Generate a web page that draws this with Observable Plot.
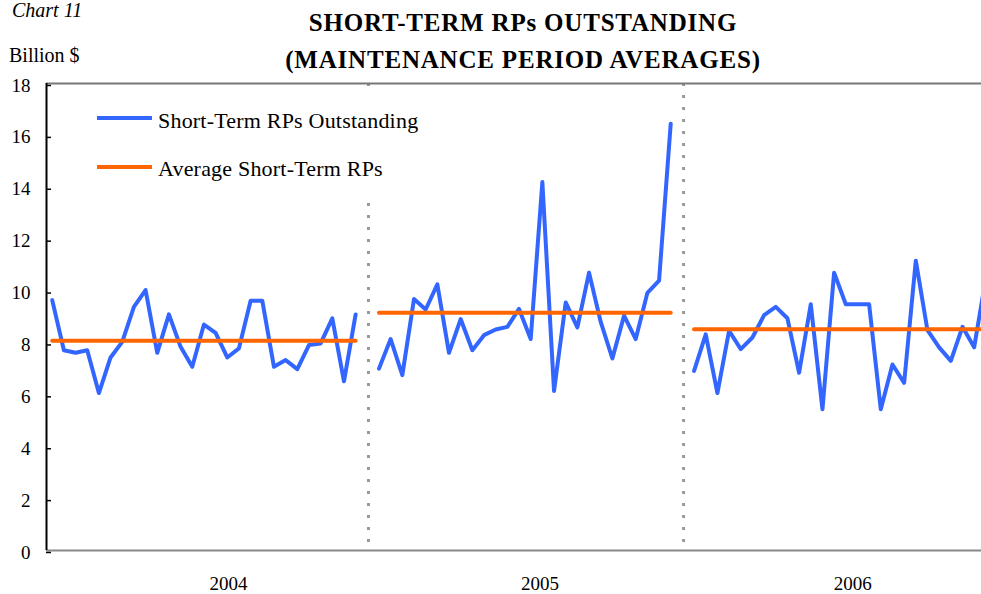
<!DOCTYPE html>
<html>
<head>
<meta charset="utf-8">
<script src="https://cdn.jsdelivr.net/npm/d3@7"></script>
<script src="https://cdn.jsdelivr.net/npm/@observablehq/plot@0.6"></script>
<style>
  html, body { margin: 0; padding: 0; background: #fff; overflow: hidden; }
  #wrap { position: relative; width: 981px; height: 594px; font-family: "Liberation Serif", "Times New Roman", serif; color: #000; }
  .abs { position: absolute; white-space: nowrap; line-height: 1; }
  .sw { position: absolute; height: 4px; width: 55px; }
</style>
</head>
<body>
<div id="wrap"></div>
<script>
// ---- data ----
const years = ["2004", "2005", "2006"];
const periodStart = [0, 28, 55];            // index of first maintenance period of each year segment
const yearBoundaries = [27.1, 54.1];        // dotted separators on the period index axis
const yearLabelPos = [15.1, 41.8, 68.6];    // year label positions on the period index axis
const rp2004 = [9.65,7.72,7.62,7.72,6.07,7.44,8.04,9.39,10.04,7.62,9.1,7.85,7.08,8.71,8.39,7.44,7.79,9.63,9.63,7.08,7.34,6.99,7.92,7.98,8.95,6.52,9.1];
const rp2005 = [7.01,8.15,6.76,9.69,9.29,10.26,7.62,8.92,7.72,8.3,8.52,8.62,9.31,8.15,14.2,6.15,9.56,8.6,10.71,8.81,7.4,9.05,8.15,9.93,10.4,16.45];
const rp2006 = [6.92,8.33,6.07,8.47,7.76,8.21,9.07,9.39,8.95,6.85,9.49,5.44,10.71,9.49,9.49,9.49,5.44,7.17,6.46,11.17,8.49,7.83,7.31,8.62,7.83,10.5];
const averages = [8.08, 9.16, 8.53];
const yTicks = [0, 2, 4, 6, 8, 10, 12, 14, 16, 18];

// ---- build tables ----
const seriesByYear = [rp2004, rp2005, rp2006];
const rows = [];
seriesByYear.forEach((arr, k) => arr.forEach((v, j) => rows.push({year: years[k], i: periodStart[k] + j, v})));
const avgRows = [];
seriesByYear.forEach((arr, k) => {
  avgRows.push({year: years[k], i: periodStart[k], v: averages[k]});
  avgRows.push({year: years[k], i: periodStart[k] + arr.length - 1, v: averages[k]});
});

const xDomain = [-0.49, 79.63];
const chart = Plot.plot({
  width: 981,
  height: 594,
  marginTop: 83,
  marginBottom: 44,
  marginLeft: 46,
  marginRight: 0,
  style: {fontFamily: "'Liberation Serif', 'Times New Roman', serif", fontSize: "19px", color: "#000", background: "#fff"},
  x: {domain: xDomain},
  y: {domain: [0, 18]},
  marks: [
    Plot.ruleX(yearBoundaries, {stroke: "#999", strokeWidth: 3, strokeDasharray: "3,9"}),
    Plot.ruleY([18], {stroke: "#777", strokeWidth: 2}),
    Plot.ruleY([0], {stroke: "#888", strokeWidth: 2}),
    Plot.ruleX([xDomain[0]], {stroke: "#000", strokeWidth: 2}),
    Plot.axisY({ticks: yTicks, tickSize: -5, tickPadding: 21, stroke: "#000", strokeWidth: 1.5, fontSize: 19, label: null, dy: 2}),
    Plot.axisX({ticks: yearLabelPos, tickSize: 0, tickPadding: 26, fontSize: 19, label: null,
      tickFormat: d => years[yearLabelPos.indexOf(d)]}),
    Plot.line(rows, {x: "i", y: "v", z: "year", stroke: "#3366FF", strokeWidth: 4, clip: true}),
    Plot.line(avgRows, {x: "i", y: "v", z: "year", stroke: "#FF6600", strokeWidth: 4, clip: true})
  ]
});

const wrap = document.getElementById("wrap");
wrap.appendChild(chart);
chart.style.position = "absolute";
chart.style.left = "0px";
chart.style.top = "0px";

function addText(txt, css) {
  const d = document.createElement("div");
  d.className = "abs";
  d.textContent = txt;
  Object.assign(d.style, css);
  wrap.appendChild(d);
  return d;
}
addText("Chart 11", {left: "12px", top: "0px", fontSize: "20px", fontStyle: "italic"});
addText("Billion $", {left: "9px", top: "45px", fontSize: "20px"});
addText("SHORT-TERM RPs OUTSTANDING", {left: "0px", width: "1046px", textAlign: "center", top: "10px", fontSize: "25px", fontWeight: "bold", letterSpacing: "0.8px"});
addText("(MAINTENANCE PERIOD AVERAGES)", {left: "0px", width: "1046px", textAlign: "center", top: "47px", fontSize: "25px", fontWeight: "bold", letterSpacing: "0.8px"});

// legend with white backing
const lg = document.createElement("div");
Object.assign(lg.style, {position: "absolute", left: "90px", top: "92px", width: "284px", height: "102px", background: "#fff"});
wrap.appendChild(lg);
const legendItems = [{label: "Short-Term RPs Outstanding", color: "#3366FF"}, {label: "Average Short-Term RPs", color: "#FF6600"}];
legendItems.forEach((it, k) => {
  const sw = document.createElement("div");
  sw.className = "sw";
  Object.assign(sw.style, {left: "97px", top: (116 + k * 48.5) + "px", background: it.color});
  wrap.appendChild(sw);
  addText(it.label, {left: "158px", top: (110 + k * 48) + "px", fontSize: "22px", letterSpacing: "0.2px"});
});
</script>
</body>
</html>
